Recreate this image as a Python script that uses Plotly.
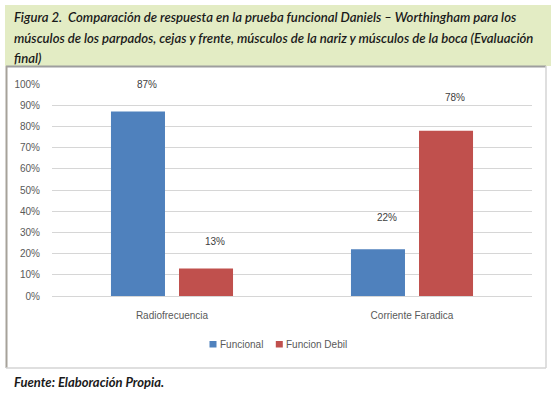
import plotly.graph_objects as go

categories = ["Radiofrecuencia", "Corriente Faradica"]
funcional = [0.87, 0.22]
funcion_debil = [0.13, 0.78]
series_names = ["Funcional", "Funcion Debil"]
title_lines = [
    "Figura 2.  Comparación de respuesta en la prueba funcional Daniels – Worthingham para los",
    "músculos de los parpados, cejas y frente, músculos de la nariz y músculos de la boca (Evaluación",
    "final)",
]
footer = "Fuente: Elaboración Propia."

W, H = 560, 393
def px(x):
    return x / W
def py(y):
    return 1 - y / H

BLUE = "#4F81BD"
RED = "#C0504D"
COLORS = [BLUE, RED]
SMALL = dict(family="Liberation Sans, Arial", size=10, color="#595959")

fig = go.Figure()
for name, vals, col in zip(series_names, (funcional, funcion_debil), COLORS):
    fig.add_trace(go.Bar(x=categories, y=vals, name=name, marker_color=col,
                         marker_line_width=0, showlegend=False))

annotations = []
# data labels (label offsets above each bar, as placed in the reference)
label_lift = [[27, 32], [27, 33]]
for s, (vals, off) in enumerate(((funcional, -0.5), (funcion_debil, 0.5))):
    for i, v in enumerate(vals):
        annotations.append(dict(
            x=i, y=v, xref="x", yref="y", text=f"{round(v*100)}%",
            showarrow=False, xshift=off * 68 + 9, yshift=label_lift[s][i],
            font=dict(family="Liberation Sans, Arial", size=10, color="#404040"),
        ))
# title lines
for k, line in enumerate(title_lines):
    annotations.append(dict(
        x=px(12), y=py(17 + 20.5 * k), xref="paper", yref="paper", text=f"<i>{line}</i>",
        showarrow=False, xanchor="left", yanchor="middle",
        font=dict(family="Lato", size=13.1, color="#1a1a1a", weight=600),
    ))
annotations.append(dict(
    x=px(12), y=py(382), xref="paper", yref="paper", text=f"<b><i>{footer}</i></b>",
    showarrow=False, xanchor="left", yanchor="middle",
    font=dict(family="Lato", size=13, color="#1a1a1a"),
))

shapes = [
    dict(type="rect", xref="paper", yref="paper", x0=px(5), x1=px(551), y0=py(66), y1=py(5),
         fillcolor="#E3ECC4", line=dict(width=0), layer="below"),
    dict(type="line", xref="paper", yref="paper", x0=px(6), x1=px(546), y0=py(66.5), y1=py(66.5),
         line=dict(color="#9E9E9E", width=2)),
    dict(type="line", xref="paper", yref="paper", x0=px(6.5), x1=px(6.5), y0=py(66), y1=py(368),
         line=dict(color="#A6A29A", width=2)),
    dict(type="line", xref="paper", yref="paper", x0=px(546), x1=px(546), y0=py(66), y1=py(368),
         line=dict(color="#D4D4D4", width=1.5)),
    dict(type="line", xref="paper", yref="paper", x0=px(6), x1=px(546), y0=py(368), y1=py(368),
         line=dict(color="#D4D4D4", width=1.5)),
]

# manual legend (small square swatches next to text, as in the reference)
legend_x = [209.5, 275.8]
for name, col, lx in zip(series_names, COLORS, legend_x):
    shapes.append(dict(type="rect", xref="paper", yref="paper", x0=px(lx), x1=px(lx + 7),
                       y0=py(347.5), y1=py(341), fillcolor=col, line=dict(width=0)))
    annotations.append(dict(x=px(lx + 8.5), y=py(344.5), xref="paper", yref="paper", text=name,
                            showarrow=False, xanchor="left", yanchor="middle", font=SMALL))

fig.update_layout(
    width=W, height=H,
    margin=dict(l=0, r=0, t=0, b=0, autoexpand=False),
    paper_bgcolor="white", plot_bgcolor="white",
    barmode="group", bargap=0.433, bargroupgap=0.206,
    xaxis=dict(domain=[px(52), px(532)], range=[-0.5, 1.5], showgrid=False, showline=False,
               ticks="", tickfont=SMALL, automargin=False, fixedrange=True,
               ticklabelstandoff=12),
    yaxis=dict(domain=[py(296), py(84)], range=[0, 1], dtick=0.1, tickformat=".0%",
               showgrid=True, gridcolor="#D6D6D6", gridwidth=1, zeroline=True, zerolinecolor="#D6D6D6",
               zerolinewidth=1, showline=False, ticklabelstandoff=11, automargin=False,
               tickfont=SMALL, fixedrange=True),
    showlegend=False,
    annotations=annotations,
    shapes=shapes,
)

fig.write_html(
    "out.html",
    config={"displayModeBar": False},
    post_script="document.body.style.margin='0';document.body.style.overflow='hidden';",
)
